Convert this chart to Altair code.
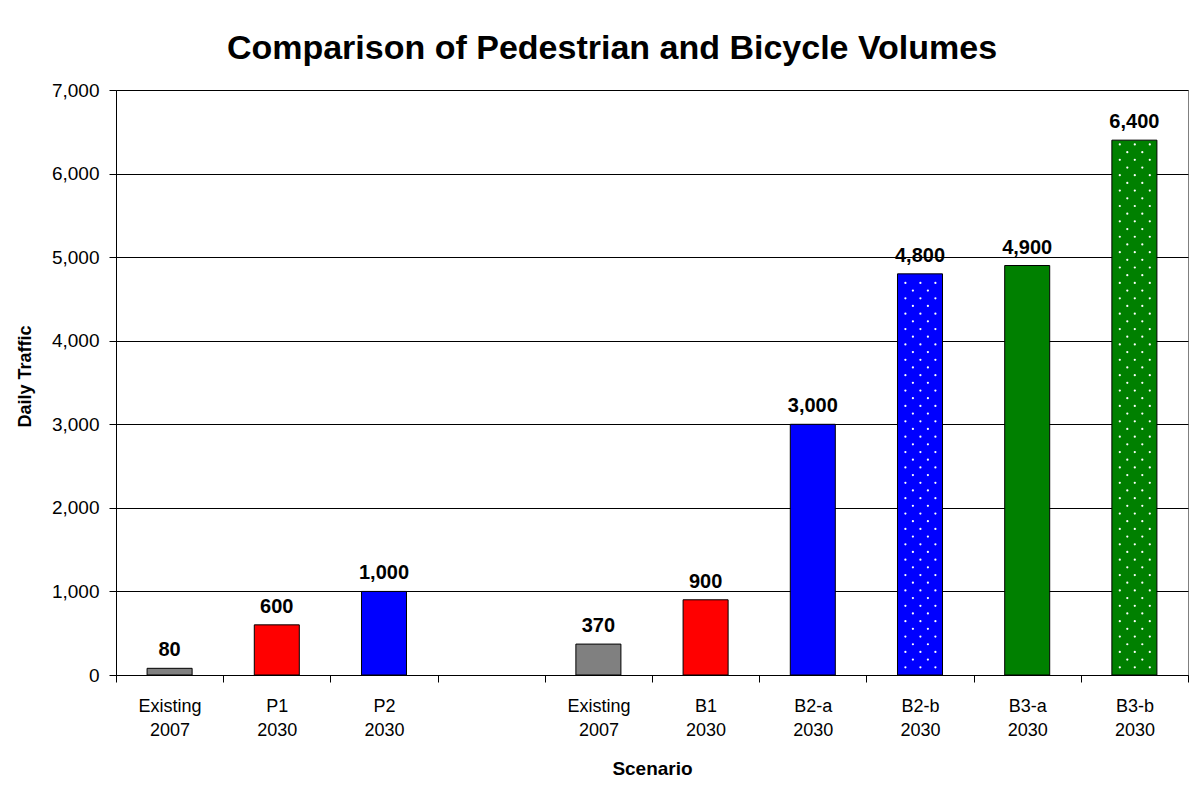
import json
import altair as alt
import pandas as pd

# ---- data ----
slots = [0, 1, 2, 3, 4, 5, 6, 7, 8, 9]
label_line1 = ["Existing", "P1", "P2", "", "Existing", "B1", "B2-a", "B2-b", "B3-a", "B3-b"]
label_line2 = ["2007", "2030", "2030", "", "2007", "2030", "2030", "2030", "2030", "2030"]
values = [80, 600, 1000, None, 370, 900, 3000, 4800, 4900, 6400]
colors = ["#808080", "#FF0000", "#0000FF", None, "#808080", "#FF0000", "#0000FF", "#0000FF", "#008000", "#008000"]
dotted = [False, False, False, False, False, False, False, True, False, True]
y_ticks = [0, 1000, 2000, 3000, 4000, 5000, 6000, 7000]

FONT = "Liberation Sans"

rows = []
for s, v, c, d in zip(slots, values, colors, dotted):
    if v is None:
        continue
    rows.append({"slot": s, "value": v, "color": c})
bars_df = pd.DataFrame(rows)

# dot texture for the dotted bars, derived from their values
dot_rows = []
step_units = 92
for s, v, d in zip(slots, values, dotted):
    if not d:
        continue
    k = 1
    while k * step_units < v - 30:
        offs = [39, 54, 69] if k % 2 else [46.5, 61.5]
        for o in offs:
            dot_rows.append({"slot": s, "y": k * step_units, "dx": o})
        k += 1
dots_df = pd.DataFrame(dot_rows)

labels_js = json.dumps([[a, b] for a, b in zip(label_line1, label_line2)])

x_scale = alt.Scale(domain=slots, paddingInner=0, paddingOuter=0)
x_enc = alt.X(
    "slot:O",
    scale=x_scale,
    axis=alt.Axis(
        title="Scenario",
        labelExpr=f"{labels_js}[datum.value]",
        labelAngle=0,
        labelFont=FONT,
        labelFontSize=18,
        labelColor="#000000",
        labelPadding=15,
        labelLineHeight=24,
        labelBaseline="top",
        tickBand="extent",
        tickSize=7,
        tickColor="#000000",
        domainColor="#000000",
        titleFont=FONT,
        titleFontSize=19,
        titleFontWeight="bold",
        titleColor="#000000",
        titleY=99,
        titleBaseline="alphabetic",
        grid=False,
    ),
)

y_scale = alt.Scale(domain=[0, 7000], nice=False)
y_axis = alt.Axis(
    title="Daily Traffic",
    values=y_ticks,
    labelExpr="format(datum.value, ',')",
    labelFont=FONT,
    labelFontSize=19,
    labelColor="#000000",
    labelPadding=10,
    tickSize=7,
    tickColor="#000000",
    domainColor="#000000",
    grid=True,
    gridColor="#000000",
    gridWidth=1,
    titleFont=FONT,
    titleFontSize=18,
    titleFontWeight="bold",
    titleColor="#000000",
    titleX=-86,
    titleY=286,
    titleAngle=-90,
    titleBaseline="alphabetic",
    titleAlign="center",
)

bars = alt.Chart(bars_df).mark_bar(
    width=alt.RelativeBandSize(0.42), stroke="#000000", strokeWidth=1
).encode(
    x=x_enc,
    y=alt.Y("value:Q", scale=y_scale, axis=y_axis),
    fill=alt.Fill("color:N", scale=None),
)

dots = alt.Chart(dots_df).mark_point(
    filled=True, color="#FFFFFF", size=5, opacity=1, strokeWidth=0
).encode(
    x=alt.X("slot:O", scale=x_scale),
    xOffset=alt.XOffset("dx:Q", scale=None),
    y=alt.Y("y:Q", scale=y_scale),
)

text = alt.Chart(bars_df).mark_text(
    font=FONT, fontSize=20, fontWeight="bold", color="#000000",
    baseline="alphabetic", dy=-12,
).encode(
    x=alt.X("slot:O", scale=x_scale),
    y=alt.Y("value:Q", scale=y_scale),
    text=alt.Text("value:Q", format=","),
)

chart = alt.layer(bars, dots, text).properties(
    width=1072,
    height=585,
    title=alt.TitleParams(
        "Comparison of Pedestrian and Bicycle Volumes",
        font=FONT,
        fontSize=34,
        fontWeight="bold",
        color="#000000",
        anchor="middle",
        baseline="alphabetic",
        offset=28,
        dx=-40,
        dy=40,
    ),
    autosize=alt.AutoSizeParams(type="none"),
    padding={"left": 108, "top": 82, "right": 1, "bottom": 103},
    background="#FFFFFF",
).configure_view(
    stroke="#808080", strokeWidth=1
)

chart.save("out.html", embed_options={"renderer": "svg", "actions": False})
